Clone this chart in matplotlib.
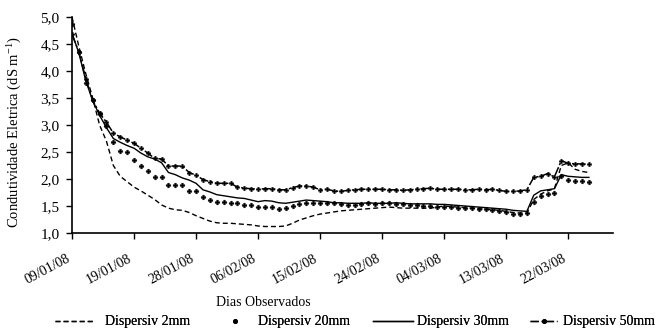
import matplotlib
matplotlib.use("Agg")
import matplotlib.pyplot as plt
from matplotlib.lines import Line2D
import numpy as np

plt.rcParams['font.family'] = ['Liberation Serif', 'DejaVu Serif']
plt.rcParams['mathtext.fontset'] = 'custom'
plt.rcParams['mathtext.rm'] = 'Liberation Serif'
plt.rcParams['mathtext.it'] = 'Liberation Serif:italic'

tick_labels = ["09/01/08", "19/01/08", "28/01/08", "06/02/08", "15/02/08",
               "24/02/08", "04/03/08", "13/03/08", "22/03/08"]

d2mm = [5.00, 4.45, 3.95, 3.50, 3.00, 2.70, 2.25, 2.05, 1.95, 1.85,
        1.78, 1.70, 1.62, 1.52, 1.46, 1.43, 1.42, 1.38, 1.32, 1.27,
        1.22, 1.19, 1.18, 1.18, 1.17, 1.16, 1.15, 1.13, 1.12, 1.12,
        1.12, 1.13, 1.18, 1.24, 1.28, 1.32, 1.35, 1.37, 1.39, 1.41,
        1.42, 1.43, 1.44, 1.45, 1.46, 1.47, 1.48, 1.47, 1.46, 1.46,
        1.46, 1.46, 1.46, 1.48, 1.50, 1.49, 1.48, 1.47, 1.46, 1.45,
        1.44, 1.43, 1.42, 1.40, 1.38, 1.37, 1.37, 1.62, 1.72, 1.78,
        1.82, 2.25, 2.30, 2.18, 2.14, 2.12]

d20mm = [4.87, 4.36, 3.78, 3.47, 3.20, 2.98, 2.69, 2.52, 2.50, 2.36,
         2.24, 2.14, 2.04, 2.04, 1.89, 1.89, 1.89, 1.78, 1.78, 1.67,
         1.62, 1.58, 1.57, 1.56, 1.55, 1.52, 1.51, 1.49, 1.48, 1.48,
         1.44, 1.47, 1.50, 1.53, 1.55, 1.56, 1.56, 1.56, 1.55, 1.53,
         1.52, 1.52, 1.53, 1.55, 1.54, 1.55, 1.56, 1.54, 1.53, 1.52,
         1.51, 1.50, 1.50, 1.49, 1.49, 1.48, 1.47, 1.47, 1.46, 1.45,
         1.44, 1.42, 1.40, 1.38, 1.36, 1.36, 1.37, 1.58, 1.68, 1.72,
         1.74, 2.05, 1.99, 1.97, 1.96, 1.95]

d30mm = [4.70, 4.33, 3.82, 3.45, 3.18, 2.95, 2.75, 2.68, 2.62, 2.57,
         2.48, 2.41, 2.37, 2.30, 2.12, 2.08, 2.02, 1.98, 1.92, 1.80,
         1.76, 1.71, 1.69, 1.67, 1.65, 1.64, 1.61, 1.58, 1.60, 1.59,
         1.56, 1.55, 1.57, 1.59, 1.61, 1.60, 1.59, 1.58, 1.56, 1.56,
         1.55, 1.55, 1.55, 1.56, 1.55, 1.55, 1.55, 1.56, 1.55, 1.54,
         1.54, 1.54, 1.54, 1.53, 1.53, 1.52, 1.51, 1.50, 1.49, 1.48,
         1.47, 1.46, 1.45, 1.44, 1.42, 1.41, 1.40, 1.70, 1.78, 1.80,
         1.82, 2.08, 2.05, 2.04, 2.03, 2.03]

d50mm = [4.68, 4.35, 3.86, 3.46, 3.22, 3.05, 2.85, 2.78, 2.72, 2.66,
         2.57, 2.48, 2.38, 2.37, 2.24, 2.24, 2.24, 2.12, 2.07, 1.99,
         1.95, 1.92, 1.92, 1.92, 1.85, 1.83, 1.82, 1.81, 1.82, 1.82,
         1.80, 1.80, 1.84, 1.87, 1.87, 1.85, 1.80, 1.81, 1.78, 1.77,
         1.79, 1.80, 1.81, 1.81, 1.81, 1.81, 1.80, 1.80, 1.79, 1.80,
         1.81, 1.82, 1.83, 1.81, 1.81, 1.81, 1.81, 1.80, 1.80, 1.81,
         1.80, 1.81, 1.79, 1.77, 1.77, 1.78, 1.80, 2.03, 2.05, 2.10,
         2.04, 2.34, 2.29, 2.28, 2.28, 2.27]

labels = ["Dispersiv 2mm", "Dispersiv 20mm", "Dispersiv 30mm", "Dispersiv 50mm"]

x = np.arange(len(d2mm))
FS = 10

fig = plt.figure(figsize=(6.71, 3.30), dpi=100)
ax = fig.add_axes([72/671, 97/330, (613-72)/671, (233-17)/330])

l1, = ax.plot(x, d2mm, color='black', lw=1.0, linestyle=(0, (3.6, 2.2)))
l2, = ax.plot(x, d20mm, color='black', lw=0, marker='P', markersize=3.4,
              markeredgewidth=0.3, markeredgecolor='black')
l3, = ax.plot(x, d30mm, color='black', lw=1.0, linestyle='-')
l4, = ax.plot(x, d50mm, color='black', lw=1.1, linestyle=(0, (6, 1.5, 1.5, 1.5)),
              marker='P', markersize=3.3, markeredgewidth=0.2, markeredgecolor='black')

ax.set_xlim(0, 78.5)
ax.set_ylim(1.0, 5.0)
yt = np.arange(1.0, 5.01, 0.5)
ax.set_yticks(yt)
ax.set_yticklabels([f"{v:.1f}".replace('.', ',') for v in yt], fontsize=11)
ax.set_xticks(np.arange(0, 9 * len(tick_labels), 9))
ax.set_xticklabels(tick_labels, rotation=28, ha='right', va='top', fontsize=FS)

ax.tick_params(axis='both', direction='out', length=4, width=1, color='black')
ax.tick_params(axis='x', pad=10)
ax.tick_params(axis='y', pad=5)
for s in ['top', 'right']:
    ax.spines[s].set_visible(False)
for s in ['left', 'bottom']:
    ax.spines[s].set_linewidth(1.2)

fig.text(15/671, 1 - 132/330, "Condutividade Eletrica (dS m$^{-1}$)", rotation=90,
         ha='center', va='center', fontsize=10.5)
fig.text(263/671, 1 - 303/330, "Dias Observados", ha='center', va='center', fontsize=FS)

# legend entries placed individually (handle start x in px, handle length, text pad)
leg_y = 1 - 322/330
em = FS * 100 / 72.0
h2 = Line2D([], [], color='black', lw=1.0, linestyle=(0, (3.6, 2.2)))
h20 = Line2D([], [], color='black', lw=0, marker='o', markersize=2.5)
h30 = Line2D([], [], color='black', lw=1.0)
h50 = Line2D([], [], color='black', lw=1.0, linestyle=(0, (6, 2, 1, 2)),
             marker='o', markersize=2.5)
entries = [(h2, labels[0], 55, 40, 10),
           (h20, labels[1], 215, 40, 3),
           (h30, labels[2], 373, 40, 4),
           (h50, labels[3], 530, 27, 6)]
for h, lab, x0, hl, pad in entries:
    lg = fig.legend([h], [lab], loc='center left', bbox_to_anchor=(x0/671, leg_y),
                    frameon=False, fontsize=FS, handlelength=hl/em,
                    handletextpad=pad/em, borderpad=0, borderaxespad=0,
                    numpoints=1)
    fig.add_artist(lg)

fig.savefig("out.png", dpi=100)
